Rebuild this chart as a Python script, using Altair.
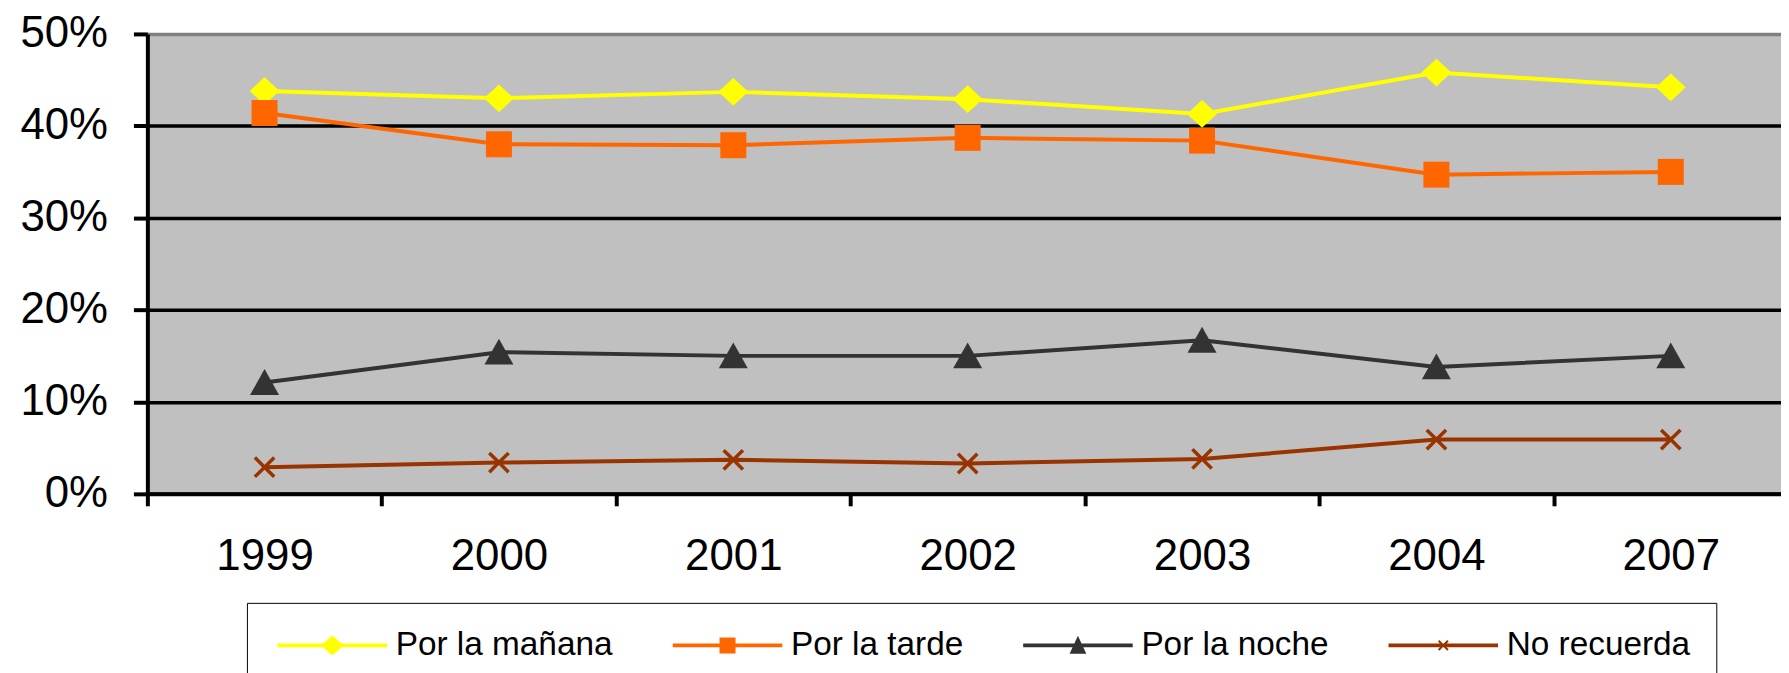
import altair as alt
import pandas as pd

# ---------------- data ----------------
years = ["1999", "2000", "2001", "2002", "2003", "2004", "2007"]
series_names = ["Por la mañana", "Por la tarde", "Por la noche", "No recuerda"]
manana = [43.8, 43.0, 43.7, 42.9, 41.3, 45.8, 44.2]
tarde = [41.4, 38.0, 37.9, 38.7, 38.4, 34.7, 35.0]
noche = [12.1, 15.4, 15.0, 15.0, 16.7, 13.8, 15.0]
no_recuerda = [2.9, 3.4, 3.7, 3.3, 3.8, 5.9, 5.9]
y_ticks = [0, 10, 20, 30, 40, 50]
colors = ["#FFFF00", "#FF6600", "#333333", "#993300"]

rows = []
for name, vals in zip(series_names, [manana, tarde, noche, no_recuerda]):
    for yr, v in zip(years, vals):
        rows.append({"anio": yr, "serie": name, "valor": v})
df = pd.DataFrame(rows)


# ---------------- marker shapes (SVG paths) ----------------
def poly(pts, cx=0.0):
    return "M" + "L".join(f"{x + cx:.3f},{y:.3f}" for x, y in pts) + "Z"


def xshape(a, d, cx=0.0):
    pts = [(-a, -a + d), (-a + d, -a), (0, -d), (a - d, -a), (a, -a + d), (d, 0),
           (a, a - d), (a - d, a), (0, d), (-a + d, a), (-a, a - d), (-d, 0)]
    return poly(pts, cx)


main_shapes = [
    poly([(0, -0.93), (1, 0), (0, 0.93), (-1, 0)]),
    poly([(-0.87, -0.87), (0.87, -0.87), (0.87, 0.87), (-0.87, 0.87)]),
    poly([(0, -0.9), (0.97, 0.83), (-0.97, 0.83)]),
    xshape(0.73, 0.165),
]

# legend symbol: line segment + marker (unit = 12px)
L0, L1, T = -1.0, 8.17, 0.15
CX = (L0 + L1) / 2
line_path = poly([(L0, -T), (L1, -T), (L1, T), (L0, T)])
legend_shapes = [
    line_path + " " + poly([(0, -0.83), (0.96, 0), (0, 0.83), (-0.96, 0)], CX),
    line_path + " " + poly([(-0.67, -0.67), (0.67, -0.67), (0.67, 0.67), (-0.67, 0.67)], CX),
    line_path + " " + poly([(0, -0.8), (0.7, 0.7), (-0.7, 0.7)], CX),
    line_path + " " + xshape(0.45, 0.12, CX),
]

FONT = "Liberation Sans"

x_enc = alt.X(
    "anio:N",
    sort=years,
    scale=alt.Scale(domain=years, paddingInner=0, paddingOuter=0, range=[0, 1648]),
    axis=alt.Axis(
        title=None, labelAngle=0, tickBand="extent", tickSize=12, tickWidth=4,
        tickColor="black", domainColor="black", domainWidth=4,
        labelFontSize=44, labelFont=FONT, labelColor="black", labelPadding=29,
        grid=False,
    ),
)
y_enc = alt.Y(
    "valor:Q",
    scale=alt.Scale(domain=[0, 50], nice=False),
    axis=alt.Axis(
        title=None, values=y_ticks, labelExpr="datum.value + '%'",
        tickSize=14, tickWidth=4, tickColor="black",
        domainColor="black", domainWidth=4,
        labelFontSize=44, labelFont=FONT, labelColor="black", labelPadding=26,
        grid=True, gridWidth=3.5, gridOpacity=1,
        gridColor={"condition": {"test": "datum.value === 50", "value": "#808080"}, "value": "black"},
    ),
)

base = alt.Chart(df).encode(x=x_enc, y=y_enc)
color_scale = alt.Scale(domain=series_names, range=colors)

lines = base.mark_line(strokeWidth=4).encode(
    color=alt.Color("serie:N", scale=color_scale, legend=None)
)

points = base.mark_point(filled=True, size=900, opacity=1).encode(
    color=alt.Color("serie:N", scale=color_scale, legend=None),
    shape=alt.Shape("serie:N", scale=alt.Scale(domain=series_names, range=main_shapes), legend=None),
)

legend = alt.Legend(
    title=None, orient="none", legendX=100, legendY=571.5,
    direction="horizontal", columns=4, gridAlign="none", columnPadding=55,
    symbolSize=576, symbolStrokeWidth=0, symbolOpacity=1, labelOffset=90,
    labelFontSize=33.5, labelFont=FONT, labelColor="black", labelLimit=600,
    padding=26, strokeColor="black", fillColor="white",
)

legend_layer = base.mark_point(filled=True, opacity=0, size=576).encode(
    color=alt.Color("serie:N", scale=color_scale, legend=legend),
    shape=alt.Shape("serie:N", scale=alt.Scale(domain=series_names, range=legend_shapes), legend=legend),
)

chart = (
    alt.layer(lines, points, legend_layer)
    .resolve_scale(color="independent", shape="independent")
    .properties(
        width=1641,
        height=462,
        autosize=alt.AutoSizeParams(type="none"),
        padding={"left": 140, "top": 24.5, "right": 0, "bottom": 196},
        view=alt.ViewBackground(fill="#C0C0C0", stroke=None),
    )
    .configure_view(fill="#C0C0C0", stroke=None)
    .configure_legend(strokeWidth=3)
    .configure(background="white")
)

chart.save("out.html", embed_options={"renderer": "svg", "actions": False})
